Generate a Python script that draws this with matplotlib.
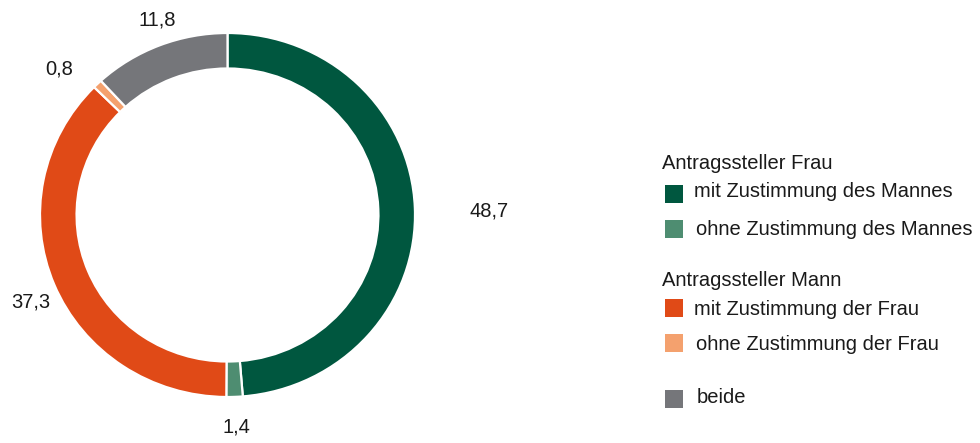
import matplotlib
matplotlib.use("Agg")
import matplotlib.pyplot as plt
from matplotlib.patches import Rectangle

plt.rcParams['font.family'] = ['Liberation Sans', 'DejaVu Sans']

categories = ["mit Zustimmung des Mannes", "ohne Zustimmung des Mannes",
              "mit Zustimmung der Frau", "ohne Zustimmung der Frau", "beide"]
values = [48.7, 1.4, 37.3, 0.8, 11.8]
value_labels = ["48,7", "1,4", "37,3", "0,8", "11,8"]
colors = ["#00573F", "#4E8D71", "#E04A17", "#F4A16E", "#75767A"]
groups = ["Antragssteller Frau", "Antragssteller Mann"]

W, H = 980, 443
fig = plt.figure(figsize=(W / 100, H / 100), dpi=100)

cx, cy, RX, RY = 227.5, 215, 187.5, 182
ax = fig.add_axes([(cx - RX) / W, (H - cy - RY) / H, 2 * RX / W, 2 * RY / H])
wedges, _ = ax.pie(values, colors=colors, startangle=90, counterclock=False,
                   radius=1.0, wedgeprops=dict(width=0.195, edgecolor="white", linewidth=1.6))
ax.set_xlim(-1, 1)
ax.set_ylim(-1, 1)
ax.set_aspect('auto')
ax.axis('off')

label_pos = [(1.394, 0.022), (0.045, -1.167), (-1.048, -0.478), (-0.899, 0.802), (-0.376, 1.071)]
for (x, y), t in zip(label_pos, value_labels):
    ax.text(x, y, t, ha='center', va='center', fontsize=14.5, color="#1a1a1a", clip_on=False)

# legend (manual)
def fy(py):
    return (H - py) / H

fs = 14.5
fig.text(662 / W, fy(169), groups[0], fontsize=fs, va='baseline', ha='left', color="#1a1a1a")
fig.text(662 / W, fy(286), groups[1], fontsize=fs, va='baseline', ha='left', color="#1a1a1a")
sq_top = [185, 220, 299, 334, 390]
base = [197, 235, 315, 350, 403]
text_x = [694, 696, 694, 696, 697]
for st, bl, tx, c, lab in zip(sq_top, base, text_x, colors, categories):
    fig.patches.append(Rectangle((665 / W, fy(st + 18)), 18 / W, 18 / H,
                                 transform=fig.transFigure, facecolor=c, edgecolor='none'))
    fig.text(tx / W, fy(bl), lab, fontsize=fs, va='baseline', ha='left', color="#1a1a1a")

fig.savefig("out.png", dpi=100)
